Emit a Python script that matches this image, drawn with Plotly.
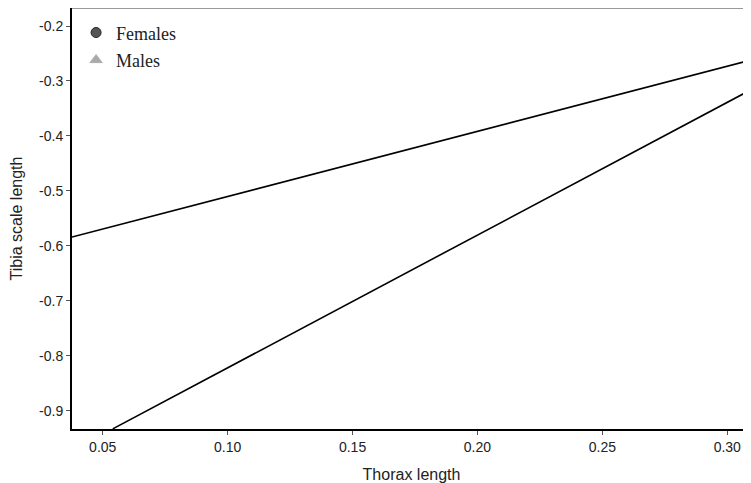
import plotly.graph_objects as go

# Regression line endpoints
female_x = [0.0377, 0.3095]
female_y = [-0.584, -0.262]
male_x = [0.054, 0.3095]
male_y = [-0.933, -0.316]

x_ticks = [0.05, 0.10, 0.15, 0.20, 0.25, 0.30]
x_tick_labels = ["0.05", "0.10", "0.15", "0.20", "0.25", "0.30"]
y_ticks = [-0.9, -0.8, -0.7, -0.6, -0.5, -0.4, -0.3, -0.2]
y_tick_labels = ["-0.9", "-0.8", "-0.7", "-0.6", "-0.5", "-0.4", "-0.3", "-0.2"]

fig = go.Figure()
fig.add_trace(go.Scatter(x=female_x, y=female_y, mode="lines",
                         line=dict(color="black", width=1.6), showlegend=False))
fig.add_trace(go.Scatter(x=male_x, y=male_y, mode="lines",
                         line=dict(color="black", width=1.6), showlegend=False))
fig.add_trace(go.Scatter(x=[None], y=[None], mode="markers", name="Females", legendgroup="f",
                         marker=dict(symbol="circle", color="#555555", size=10,
                                     line=dict(color="#222222", width=1))))
fig.add_trace(go.Scatter(x=[None], y=[None], mode="markers", name="Males", legendgroup="m",
                         marker=dict(symbol="triangle-up", color="#aaaaaa", size=11,
                                     line=dict(color="#999999", width=0.5))))

fig.update_layout(
    width=743, height=475,
    margin=dict(l=64, r=0, t=0, b=54),
    paper_bgcolor="white", plot_bgcolor="white",
    font=dict(family="Liberation Sans, Arial, sans-serif", color="#222222"),
    legend=dict(x=0.006, y=0.985, xanchor="left", yanchor="top",
                font=dict(family="Liberation Serif, Times New Roman, serif", size=18, color="#222222"),
                bgcolor="rgba(0,0,0,0)", itemwidth=30, tracegroupgap=1),
    xaxis=dict(range=[0.0377, 0.3095], tickvals=x_ticks, ticktext=x_tick_labels,
               showgrid=False, zeroline=False, showline=True, linecolor="black", linewidth=2,
               ticks="outside", ticklen=4, tickcolor="#555555", tickfont=dict(size=14),
               title=dict(text="Thorax length", font=dict(size=16), standoff=17)),
    yaxis=dict(range=[-0.9333, -0.1672], tickvals=y_ticks, ticktext=y_tick_labels,
               showgrid=False, zeroline=False, showline=True, linecolor="black", linewidth=2,
               ticks="outside", ticklen=4, tickcolor="#555555", tickfont=dict(size=14),
               title=dict(text="Tibia scale length", font=dict(size=16), standoff=12)),
    shapes=[dict(type="line", xref="paper", yref="paper", x0=0, x1=1, y0=1, y1=1,
                 line=dict(color="#777777", width=1.5))],
)

fig.write_html("out.html")
